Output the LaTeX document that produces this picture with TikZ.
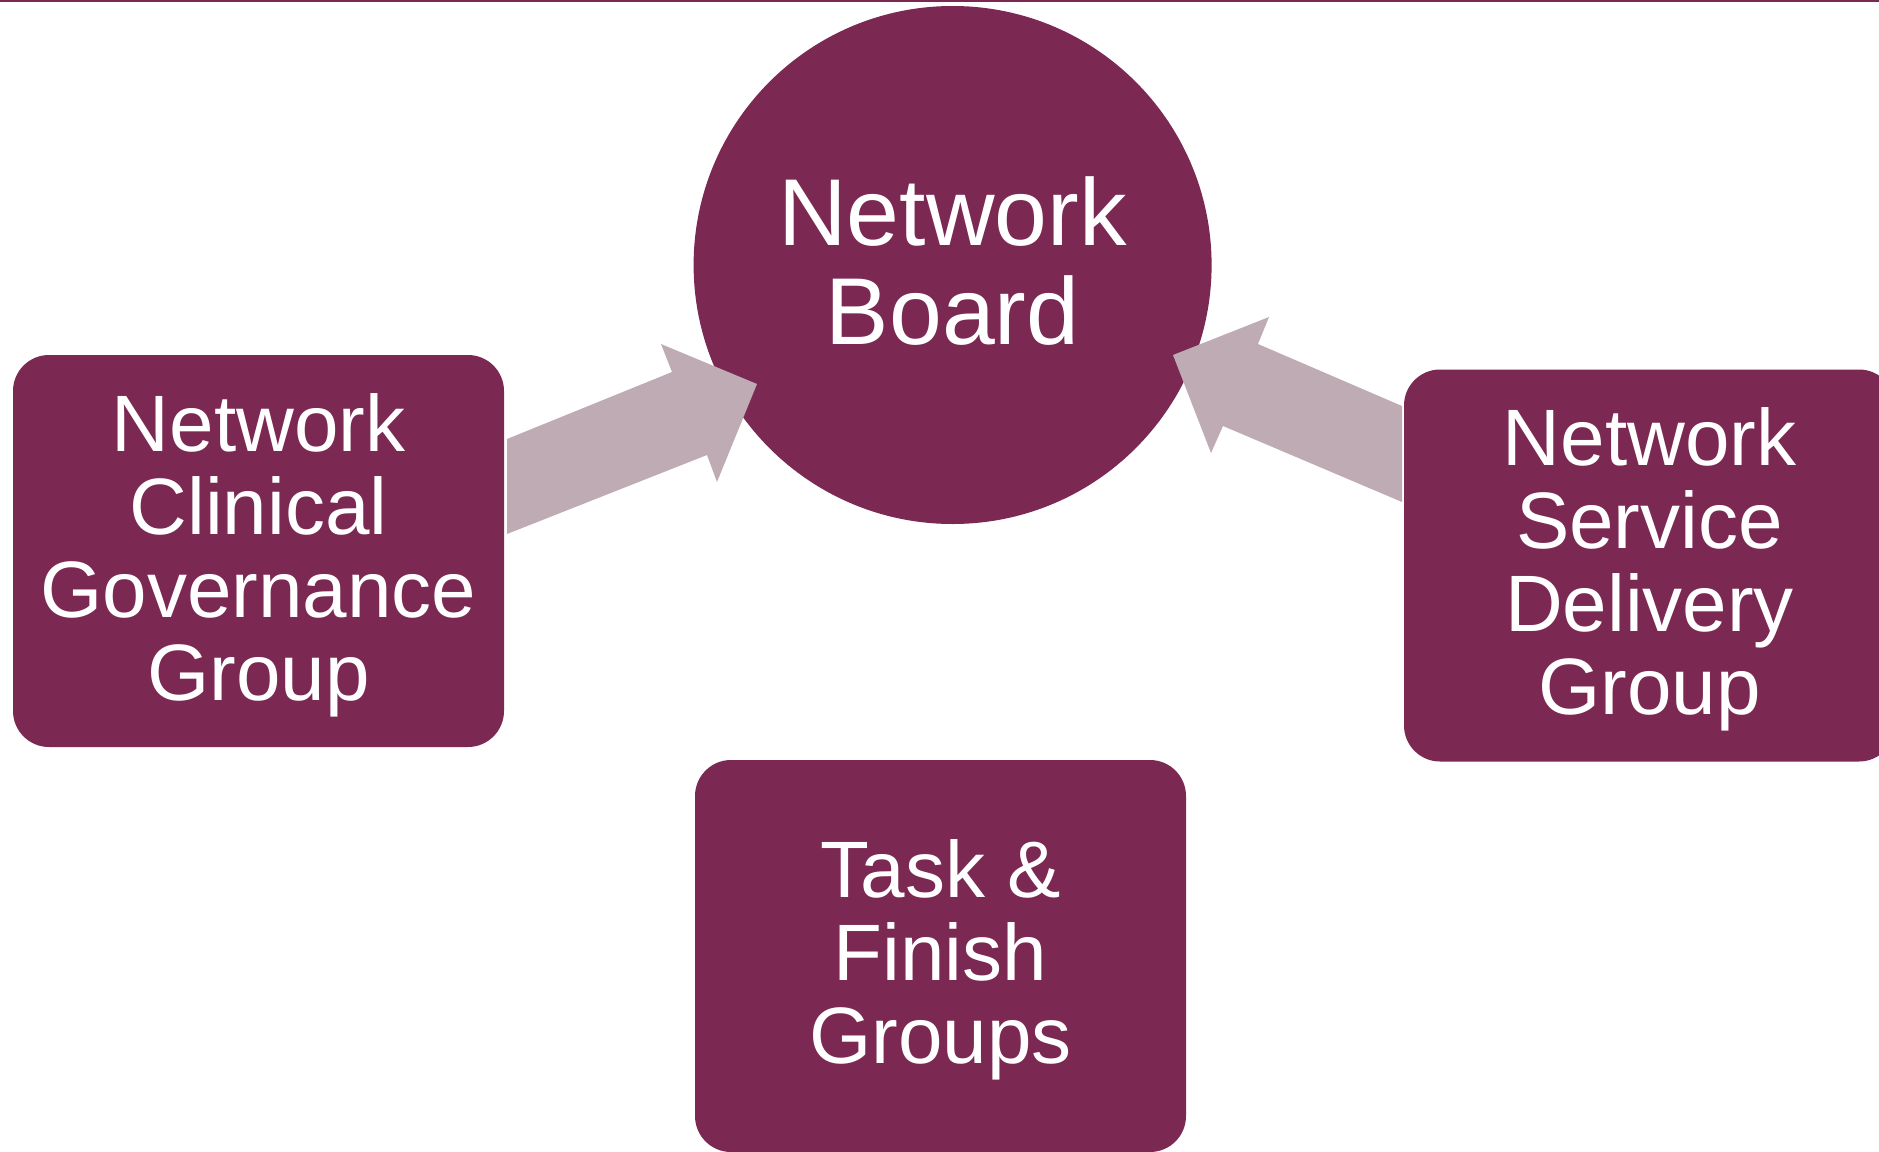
\documentclass[tikz,border=0pt]{standalone}
\usepackage{fontspec}
\setmainfont{Liberation Sans}
\definecolor{plum}{RGB}{123,40,83}
\definecolor{mauve}{RGB}{191,171,180}
\begin{document}
\begin{tikzpicture}[x=1pt,y=-1pt,
  blockbox/.style={rectangle, rounded corners=36pt, fill=plum,
    minimum width=491pt, minimum height=392pt, inner sep=0pt},
  boxtext/.style={text=white, inner sep=0pt, align=center,
    font=\fontsize{80}{83}\selectfont, yshift=-4pt},
  boardcircle/.style={circle, fill=plum, minimum size=518pt, inner sep=0pt},
  boardtext/.style={text=white, inner sep=0pt, align=center,
    font=\fontsize{95}{99}\selectfont, yshift=4pt},
  blockarrow/.style={fill=mauve, draw=none}]
\useasboundingbox (0,0) rectangle (1879,1151);
\fill[plum] (0,0) rectangle (1879,1.6);
\node[boardcircle] (board) at (952.6,265) {};
\node[boardtext] (boardlbl) at (board.center) {Network\\Board};
\node[blockbox] (ncg) at (258.5,551) {};
\node[boxtext] (ncglbl) at (ncg.center) {Network\\Clinical\\Governance\\Group};
\node[blockbox] (nsd) at (1649.5,565.5) {};
\node[boxtext] (nsdlbl) at (nsd.center) {Network\\Service\\Delivery\\Group};
\node[blockbox] (tf) at (940.5,956) {};
\node[boxtext] (tflbl) at (tf.center) {Task \&\\Finish\\Groups};
\fill[blockarrow] (507,439) -- (672,372) -- (661,344) -- (757,384) -- (717,482) -- (707,455) -- (507,534) -- cycle;
\fill[blockarrow] (1402,406) -- (1258,344) -- (1269,317) -- (1173,355) -- (1211,453) -- (1223,426) -- (1402,502) -- cycle;
\end{tikzpicture}
\end{document}
